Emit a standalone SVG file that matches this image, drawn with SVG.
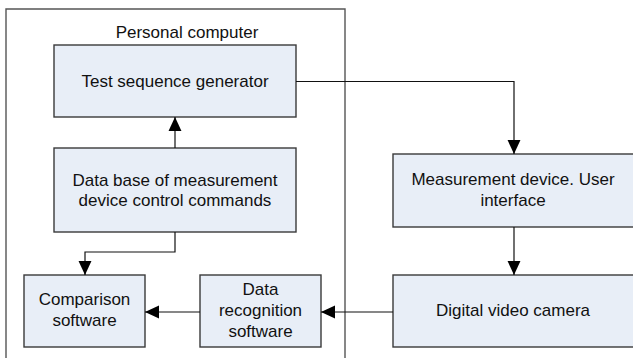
<svg xmlns="http://www.w3.org/2000/svg" width="633" height="358" viewBox="0 0 633 358">
<defs>
<style>
.box{fill:#e8eef7;stroke:#3a3a3a;stroke-width:1.4}
.frame{fill:none;stroke:#555;stroke-width:1.4}
.t{font-family:"Liberation Sans",Arial,sans-serif;font-size:17px;fill:#111;text-anchor:middle}
.c{fill:none;stroke:#111;stroke-width:1.2}
</style>
<marker id="ah" markerUnits="userSpaceOnUse" markerWidth="14" markerHeight="14" viewBox="0 0 13 12" refX="13" refY="6" orient="auto">
<path d="M0,0 L13,6 L0,12 Z" fill="#000"/>
</marker>
</defs>
<g id="pc">
<path class="frame" d="M6,360 L6,9 L345,9 L345,360"/>
<text class="t" x="187" y="38">Personal computer</text>
</g>
<g id="tsg">
<rect class="box" x="54" y="45" width="242" height="72"/>
<text class="t" x="175" y="87">Test sequence generator</text>
</g>
<g id="db">
<rect class="box" x="54" y="148" width="242" height="84"/>
<text class="t" x="175" y="186">Data base of measurement</text>
<text class="t" x="175" y="206">device control commands</text>
</g>
<g id="cmp">
<rect class="box" x="24" y="275" width="121" height="72"/>
<text class="t" x="84.5" y="305">Comparison</text>
<text class="t" x="84.5" y="326">software</text>
</g>
<g id="drs">
<rect class="box" x="200" y="275" width="121" height="72"/>
<text class="t" x="260.5" y="295">Data</text>
<text class="t" x="260.5" y="316">recognition</text>
<text class="t" x="260.5" y="337">software</text>
</g>
<g id="mdui">
<rect class="box" x="393" y="154" width="244" height="73"/>
<text class="t" x="513" y="185">Measurement device. User</text>
<text class="t" x="513" y="206">interface</text>
</g>
<g id="dvc">
<rect class="box" x="393" y="275" width="244" height="72"/>
<text class="t" x="513" y="316">Digital video camera</text>
</g>
<g id="connectors">
<path class="c" d="M175,148 L175,117" marker-end="url(#ah)"/>
<path class="c" d="M175,232 L175,252 L85,252 L85,275" marker-end="url(#ah)"/>
<path class="c" d="M200,312 L145,312" marker-end="url(#ah)"/>
<path class="c" d="M393,312 L321,312" marker-end="url(#ah)"/>
<path class="c" d="M296,81.5 L514,81.5 L514,154" marker-end="url(#ah)"/>
<path class="c" d="M514,227 L514,275" marker-end="url(#ah)"/>
</g>
</svg>
